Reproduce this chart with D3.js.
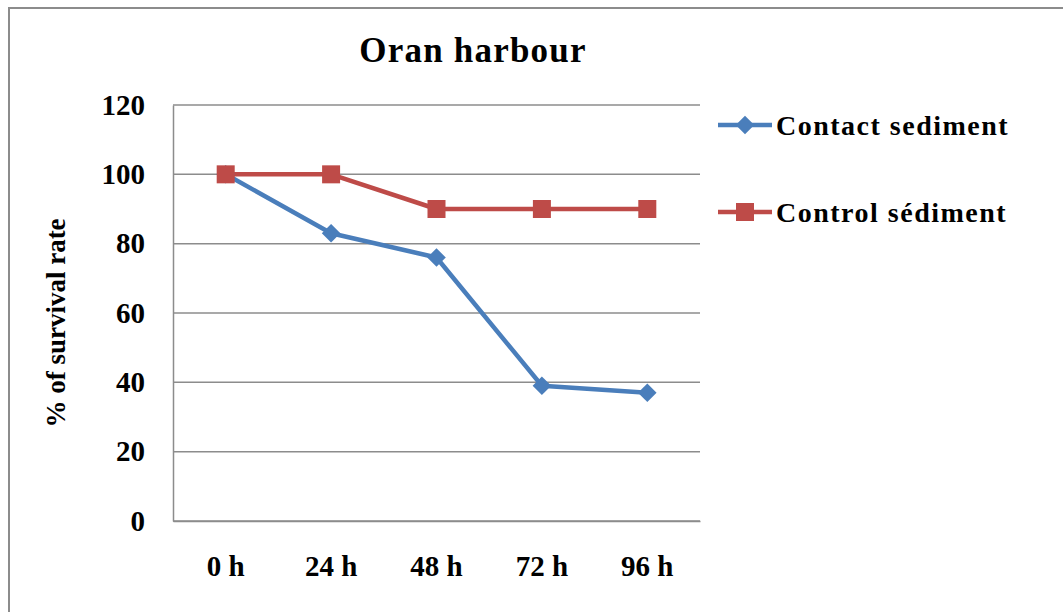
<!DOCTYPE html>
<html>
<head>
<meta charset="utf-8">
<script src="https://cdn.jsdelivr.net/npm/d3@7"></script>
<style>
  body { margin: 0; background: #fff; }
  text { font-family: "Liberation Serif", "Times New Roman", serif; font-weight: bold; fill: #000; }
</style>
</head>
<body>
<div class="main"></div>
<script>
// data
const hours = ["0 h", "24 h", "48 h", "72 h", "96 h"];
const contactValues = [100, 83, 76, 39, 37];
const controlValues = [100, 100, 90, 90, 90];
const yTicks = [0, 20, 40, 60, 80, 100, 120];
const seriesNames = ["Contact sediment", "Control sédiment"];
const seriesColors = ["#4a7ebb", "#be4b48"];

let width = 1063;
let height = 612;
let margin = { left: 173, top: 105, right: 363, bottom: 91 };

let svg = d3.select(".main")
    .append("svg")
    .attr("width", width)
    .attr("height", height);

// outer chart frame
svg.append("rect")
    .attr("x", 9).attr("y", 8)
    .attr("width", width + 20).attr("height", height + 20)
    .attr("fill", "none")
    .attr("stroke", "#8c8c8c")
    .attr("stroke-width", 2);

let x = d3.scaleBand()
    .domain(hours)
    .range([margin.left, width - margin.right]);

let y = d3.scaleLinear()
    .domain([0, 120])
    .range([height - margin.bottom, margin.top]);

// gridlines
svg.append("g")
    .selectAll("line")
    .data(yTicks)
    .enter().append("line")
    .attr("x1", margin.left)
    .attr("x2", width - margin.right)
    .attr("y1", d => y(d))
    .attr("y2", d => y(d))
    .attr("stroke", "#8c8c8c")
    .attr("stroke-width", 1.5);

// y axis
let yAxis = svg.append("g")
    .attr("transform", `translate(${margin.left},0)`)
    .call(d3.axisLeft(y).tickValues(yTicks).tickSize(0).tickPadding(28));
yAxis.select(".domain").attr("stroke", "#8c8c8c").attr("stroke-width", 1.5);
yAxis.selectAll("text").style("font-size", "29px").style("font-family", null);

// x axis
let xAxis = svg.append("g")
    .attr("transform", `translate(0,${y(0)})`)
    .call(d3.axisBottom(x).tickSize(0).tickPadding(34));
xAxis.select(".domain").attr("stroke", "#8c8c8c").attr("stroke-width", 1.5);
xAxis.selectAll("text").style("font-size", "29px").style("font-family", null);

// title
svg.append("text")
    .attr("x", 473).attr("y", 62)
    .attr("text-anchor", "middle")
    .style("font-size", "35px")
    .style("letter-spacing", "1.2px")
    .text("Oran harbour");

// y label
svg.append("text")
    .attr("transform", `translate(65,323) rotate(-90)`)
    .attr("text-anchor", "middle")
    .style("font-size", "27px")
    .text("%  of survival rate");

let series = [contactValues, controlValues];
let line = d3.line()
    .x((d, i) => x(hours[i]) + x.bandwidth() / 2)
    .y(d => y(d));

series.forEach((vals, s) => {
    svg.append("path")
        .datum(vals)
        .attr("d", line)
        .attr("fill", "none")
        .attr("stroke", seriesColors[s])
        .attr("stroke-width", 4.5)
        .attr("stroke-linejoin", "round");
});

function drawMarker(g, s, cx, cy) {
    if (s === 0) {
        g.append("path")
            .attr("d", d3.symbol().type(d3.symbolDiamond2).size(220)())
            .attr("transform", `translate(${cx},${cy})`)
            .attr("fill", seriesColors[s]);
    } else {
        g.append("rect")
            .attr("x", cx - 9).attr("y", cy - 9)
            .attr("width", 18).attr("height", 18)
            .attr("fill", seriesColors[s]);
    }
}

let markerG = svg.append("g");
series.forEach((vals, s) => {
    vals.forEach((v, i) => {
        drawMarker(markerG, s, x(hours[i]) + x.bandwidth() / 2, y(v));
    });
});

// legend
let legendY = [125, 212];
seriesNames.forEach((name, s) => {
    let g = svg.append("g");
    g.append("line")
        .attr("x1", 718).attr("x2", 772)
        .attr("y1", legendY[s]).attr("y2", legendY[s])
        .attr("stroke", seriesColors[s])
        .attr("stroke-width", 4.5);
    drawMarker(g, s, 745, legendY[s]);
    g.append("text")
        .attr("x", 776).attr("y", legendY[s] + 10)
        .style("font-size", "28px")
        .style("letter-spacing", "1.5px")
        .text(name);
});
</script>
</body>
</html>
